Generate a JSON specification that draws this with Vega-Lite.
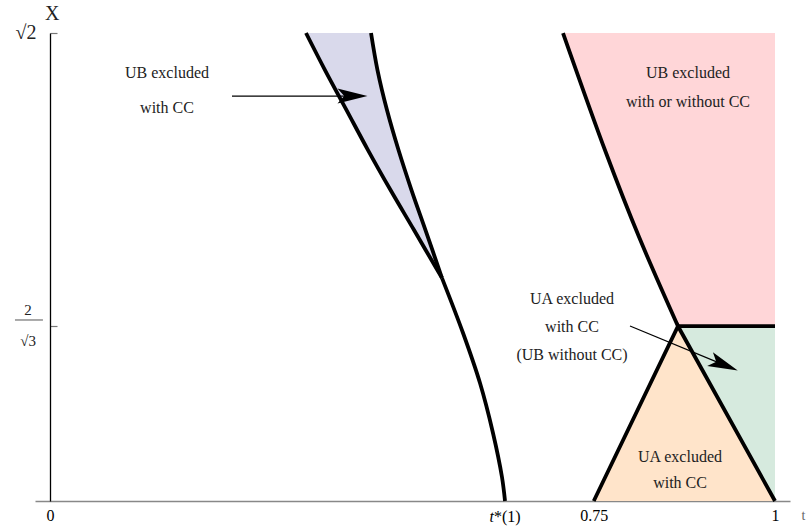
{
  "$schema": "https://vega.github.io/schema/vega-lite/v6.json",
  "width": 755,
  "height": 468,
  "autosize": {"type": "none"},
  "padding": {"left": 35, "top": 33, "right": 17, "bottom": 28},
  "background": "white",
  "config": {"view": {"stroke": null}, "font": "Liberation Serif"},
  "datasets": {
    "regions": [
      {"region": "blue", "y": 1.4142, "x1": 0.3531, "x2": 0.4428},
      {"region": "blue", "y": 1.3814, "x1": 0.3793, "x2": 0.4517},
      {"region": "blue", "y": 1.3460, "x1": 0.4090, "x2": 0.4648},
      {"region": "blue", "y": 1.3106, "x1": 0.4386, "x2": 0.4807},
      {"region": "blue", "y": 1.2752, "x1": 0.4697, "x2": 0.4986},
      {"region": "blue", "y": 1.2398, "x1": 0.5021, "x2": 0.5179},
      {"region": "blue", "y": 1.1973, "x1": 0.5407, "x2": 0.5407},
      {"region": "pink", "y": 1.4142, "x1": 0.7076, "x2": 1.0},
      {"region": "pink", "y": 1.3080, "x1": 0.7670, "x2": 1.0},
      {"region": "pink", "y": 1.2336, "x1": 0.8125, "x2": 1.0},
      {"region": "pink", "y": 1.1547, "x1": 0.8662, "x2": 1.0},
      {"region": "peach", "y": 1.1547, "x1": 0.8662, "x2": 0.8662},
      {"region": "peach", "y": 1.0, "x1": 0.75, "x2": 1.0},
      {"region": "green", "y": 1.1547, "x1": 0.8662, "x2": 1.0},
      {"region": "green", "y": 1.0, "x1": 1.0, "x2": 1.0}
    ],
    "curves": [
      {"id": "a1", "i": 0, "x": 0.3531, "y": 1.4142},
      {"id": "a1", "i": 1, "x": 0.3793, "y": 1.3814},
      {"id": "a1", "i": 2, "x": 0.4090, "y": 1.3460},
      {"id": "a1", "i": 3, "x": 0.4386, "y": 1.3106},
      {"id": "a1", "i": 4, "x": 0.4697, "y": 1.2752},
      {"id": "a1", "i": 5, "x": 0.5021, "y": 1.2398},
      {"id": "a1", "i": 6, "x": 0.5407, "y": 1.1973},
      {"id": "a2", "i": 0, "x": 0.5407, "y": 1.1973},
      {"id": "a2", "i": 1, "x": 0.5697, "y": 1.1487},
      {"id": "a2", "i": 2, "x": 0.5931, "y": 1.1044},
      {"id": "a2", "i": 3, "x": 0.6110, "y": 1.0602},
      {"id": "a2", "i": 4, "x": 0.6234, "y": 1.0212},
      {"id": "a2", "i": 5, "x": 0.6276, "y": 1.0},
      {"id": "b", "i": 0, "x": 0.4428, "y": 1.4142},
      {"id": "b", "i": 1, "x": 0.4517, "y": 1.3814},
      {"id": "b", "i": 2, "x": 0.4648, "y": 1.3460},
      {"id": "b", "i": 3, "x": 0.4807, "y": 1.3106},
      {"id": "b", "i": 4, "x": 0.4986, "y": 1.2752},
      {"id": "b", "i": 5, "x": 0.5179, "y": 1.2398},
      {"id": "b", "i": 6, "x": 0.5407, "y": 1.1973},
      {"id": "c", "i": 0, "x": 0.7076, "y": 1.4142},
      {"id": "c", "i": 1, "x": 0.7670, "y": 1.3080},
      {"id": "c", "i": 2, "x": 0.8125, "y": 1.2336},
      {"id": "c", "i": 3, "x": 0.8662, "y": 1.1547}
    ],
    "segments": [
      {"id": "d", "i": 0, "x": 0.75, "y": 1.0},
      {"id": "d", "i": 1, "x": 0.8662, "y": 1.1547},
      {"id": "d", "i": 2, "x": 1.0, "y": 1.0},
      {"id": "e", "i": 0, "x": 0.8662, "y": 1.1547},
      {"id": "e", "i": 1, "x": 1.0, "y": 1.1547}
    ],
    "arrows": [
      {"id": "p", "i": 0, "x": 0.2510, "y": 1.3584},
      {"id": "p", "i": 1, "x": 0.4172, "y": 1.3584},
      {"id": "q", "i": 0, "x": 0.8, "y": 1.1549},
      {"id": "q", "i": 1, "x": 0.9295, "y": 1.1205}
    ],
    "heads": [
      {"x": 0.4172, "y": 1.3584, "angle": 0},
      {"x": 0.9295, "y": 1.1205, "angle": 22.6}
    ],
    "notes": [
      {"x": 0.1614, "y": 1.3788, "text": "UB excluded"},
      {"x": 0.1614, "y": 1.3478, "text": "with CC"},
      {"x": 0.88, "y": 1.3788, "text": "UB excluded"},
      {"x": 0.88, "y": 1.3531, "text": "with or without CC"},
      {"x": 0.72, "y": 1.1788, "text": "UA excluded"},
      {"x": 0.72, "y": 1.1540, "text": "with CC"},
      {"x": 0.72, "y": 1.1292, "text": "(UB without CC)"},
      {"x": 0.869, "y": 1.0389, "text": "UA excluded"},
      {"x": 0.869, "y": 1.0159, "text": "with CC"}
    ],
    "bigLabels": [
      {"x": -0.0331, "y": 1.4142, "text": "√2"},
      {"x": 0.0030, "y": 1.4310, "text": "X"}
    ],
    "fracLabels": [
      {"x": -0.0303, "y": 1.1690, "text": "2"},
      {"x": -0.0303, "y": 1.1420, "text": "√3"}
    ],
    "bar": [
      {"x": -0.0483, "x2": -0.0097, "y": 1.1602}
    ],
    "tItalic": [
      {"x": 0.6124, "y": 0.9858, "text": "t"}
    ],
    "tRest": [
      {"x": 0.6124, "y": 0.9858, "text": "*(1)"}
    ]
  },
  "layer": [
    {
      "data": {"name": "regions"},
      "mark": {"type": "area", "orient": "horizontal", "opacity": 1, "interpolate": "catmull-rom"},
      "encoding": {
        "y": {"field": "y", "type": "quantitative", "scale": {"domain": [1, 1.41421], "nice": false, "zero": false},
              "axis": {"orient": "left", "offset": -15, "values": [1.41421, 1.1547], "labels": false, "grid": false, "title": null,
                       "domainColor": "black", "domainWidth": 1.3, "tickColor": "#777", "tickSize": -7, "tickWidth": 1.2}},
        "x": {"field": "x1", "type": "quantitative", "stack": null,
              "scale": {"domain": [-0.02069, 1.02069], "nice": false, "zero": false},
              "axis": {"orient": "bottom", "values": [0, 0.6276, 0.75, 1], "grid": false, "ticks": false,
                       "labelExpr": "datum.value == 0 ? '0' : datum.value == 1 ? '1' : datum.value == 0.75 ? '0.75' : ''",
                       "labelFont": "Liberation Serif", "labelFontSize": 16, "labelColor": "black", "labelPadding": 6,
                       "domainColor": "#888", "domainWidth": 1.3,
                       "title": "t", "titleFont": "Liberation Serif", "titleFontSize": 14, "titleFontWeight": "normal",
                       "titleX": 766, "titleY": 14, "titleAlign": "left", "titleBaseline": "middle", "titleColor": "#666"}},
        "x2": {"field": "x2"},
        "color": {"field": "region", "type": "nominal", "legend": null,
                  "scale": {"domain": ["blue", "pink", "peach", "green"], "range": ["#D9D9EB", "#FFD6D8", "#FFE4CA", "#D6EADE"]}}
      }
    },
    {
      "data": {"name": "curves"},
      "mark": {"type": "line", "color": "black", "strokeWidth": 3.8, "strokeCap": "butt", "interpolate": "catmull-rom"},
      "encoding": {
        "x": {"field": "x", "type": "quantitative"},
        "y": {"field": "y", "type": "quantitative"},
        "detail": {"field": "id"},
        "order": {"field": "i", "type": "quantitative"}
      }
    },
    {
      "data": {"name": "segments"},
      "mark": {"type": "line", "color": "black", "strokeWidth": 3.8, "strokeJoin": "miter", "strokeCap": "butt"},
      "encoding": {
        "x": {"field": "x", "type": "quantitative"},
        "y": {"field": "y", "type": "quantitative"},
        "detail": {"field": "id"},
        "order": {"field": "i", "type": "quantitative"}
      }
    },
    {
      "data": {"name": "arrows"},
      "mark": {"type": "line", "color": "black", "strokeWidth": 1.2},
      "encoding": {
        "x": {"field": "x", "type": "quantitative"},
        "y": {"field": "y", "type": "quantitative"},
        "detail": {"field": "id"},
        "order": {"field": "i", "type": "quantitative"}
      }
    },
    {
      "data": {"name": "heads"},
      "mark": {"type": "point", "shape": "M 1 0 L -1 -0.5 L -0.55 0 L -1 0.5 Z", "filled": true, "color": "black", "opacity": 1, "size": 900, "strokeWidth": 0},
      "encoding": {
        "x": {"field": "x", "type": "quantitative"},
        "y": {"field": "y", "type": "quantitative"},
        "angle": {"field": "angle", "type": "quantitative", "scale": null}
      }
    },
    {
      "data": {"name": "notes"},
      "mark": {"type": "text", "font": "Liberation Serif", "fontSize": 16, "color": "#222", "align": "center", "baseline": "middle"},
      "encoding": {
        "x": {"field": "x", "type": "quantitative"},
        "y": {"field": "y", "type": "quantitative"},
        "text": {"field": "text"}
      }
    },
    {
      "data": {"name": "bigLabels"},
      "mark": {"type": "text", "font": "Liberation Serif", "fontSize": 20, "color": "#222", "align": "center", "baseline": "middle"},
      "encoding": {
        "x": {"field": "x", "type": "quantitative"},
        "y": {"field": "y", "type": "quantitative"},
        "text": {"field": "text"}
      }
    },
    {
      "data": {"name": "fracLabels"},
      "mark": {"type": "text", "font": "Liberation Serif", "fontSize": 15, "color": "#222", "align": "center", "baseline": "middle"},
      "encoding": {
        "x": {"field": "x", "type": "quantitative"},
        "y": {"field": "y", "type": "quantitative"},
        "text": {"field": "text"}
      }
    },
    {
      "data": {"name": "bar"},
      "mark": {"type": "rule", "color": "#555", "strokeWidth": 1},
      "encoding": {
        "x": {"field": "x", "type": "quantitative"},
        "x2": {"field": "x2"},
        "y": {"field": "y", "type": "quantitative"}
      }
    },
    {
      "data": {"name": "tItalic"},
      "mark": {"type": "text", "font": "Liberation Serif", "fontSize": 16, "fontStyle": "italic", "color": "black", "align": "right", "baseline": "middle"},
      "encoding": {
        "x": {"field": "x", "type": "quantitative"},
        "y": {"field": "y", "type": "quantitative"},
        "text": {"field": "text"}
      }
    },
    {
      "data": {"name": "tRest"},
      "mark": {"type": "text", "font": "Liberation Serif", "fontSize": 16, "color": "black", "align": "left", "baseline": "middle"},
      "encoding": {
        "x": {"field": "x", "type": "quantitative"},
        "y": {"field": "y", "type": "quantitative"},
        "text": {"field": "text"}
      }
    }
  ]
}
